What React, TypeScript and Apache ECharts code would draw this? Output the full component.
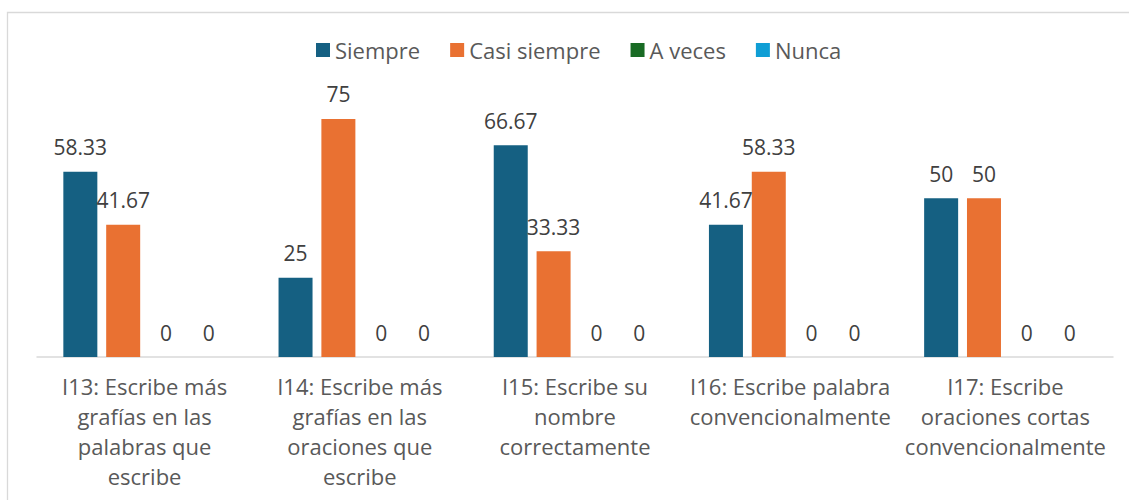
import React, { useEffect, useRef } from "react";
import * as echarts from "echarts";

const categories = [
  "I13: Escribe más\ngrafías en las\npalabras que\nescribe",
  "I14: Escribe más\ngrafías en las\noraciones que\nescribe",
  "I15: Escribe su\nnombre\ncorrectamente",
  "I16: Escribe palabra\nconvencionalmente",
  "I17: Escribe\noraciones cortas\nconvencionalmente",
];
const seriesNames = ["Siempre", "Casi siempre", "A veces", "Nunca"];
const siempre = [58.33, 25, 66.67, 41.67, 50];
const casiSiempre = [41.67, 75, 33.33, 58.33, 50];
const aVeces = [0, 0, 0, 0, 0];
const nunca = [0, 0, 0, 0, 0];
const colors = ["#156082", "#E97132", "#196B24", "#0F9ED5"];

const FONT = "Open Sans";

export default function App() {
  const ref = useRef<HTMLDivElement>(null);
  useEffect(() => {
    if (!ref.current) return;
    const chart = echarts.init(ref.current, null, { renderer: "svg" });
    const values = [siempre, casiSiempre, aVeces, nunca];
    chart.setOption({
      animation: false,
      color: colors,
      graphic: [
        {
          type: "rect",
          shape: { x: 7.5, y: 12.5, width: 1200, height: 600 },
          style: { fill: "none", stroke: "#D9D9D9", lineWidth: 1.3 },
          silent: true,
        },
      ],
      legend: {
        left: 311,
        top: 33,
        padding: 5,
        icon: "rect",
        itemWidth: 14,
        itemHeight: 14,
        itemGap: 30,
        data: seriesNames,
        textStyle: {
          fontFamily: FONT,
          fontSize: 22,
          color: "#595959",
          lineHeight: 24,
        },
      },
      grid: { left: 37, right: 16, top: 103, bottom: 143 },
      xAxis: {
        type: "category",
        data: categories,
        axisLine: { lineStyle: { color: "#D9D9D9", width: 1.5 } },
        axisTick: { show: false },
        axisLabel: {
          interval: 0,
          margin: 14,
          fontFamily: FONT,
          fontSize: 22,
          lineHeight: 30,
          color: "#595959",
          align: "center",
        },
      },
      yAxis: {
        type: "value",
        min: 0,
        max: 80,
        show: false,
        splitLine: { show: false },
      },
      series: seriesNames.map((name, i) => ({
        name,
        type: "bar",
        data: values[i],
        barWidth: 34,
        barGap: "26%",
        itemStyle: { color: colors[i] },
        label: {
          show: true,
          position: "top",
          distance: 14,
          fontFamily: FONT,
          fontSize: 21,
          color: "#404040",
        },
      })),
    });
    return () => chart.dispose();
  }, []);
  return (
    <div
      ref={ref}
      style={{ position: "absolute", left: 0, top: 0, width: 1129, height: 500 }}
    />
  );
}
